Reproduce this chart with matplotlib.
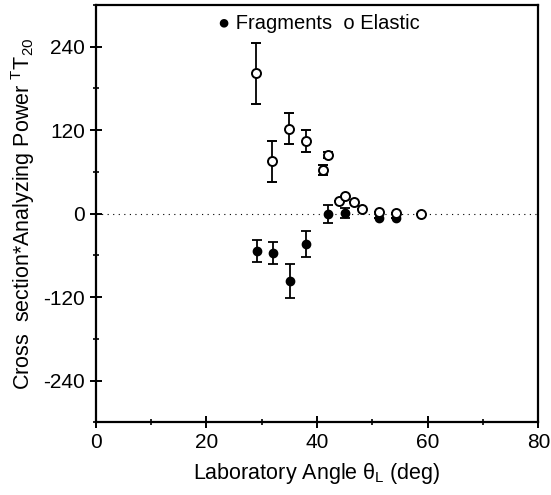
import matplotlib
matplotlib.use("Agg")
import matplotlib.pyplot as plt
from matplotlib.ticker import MultipleLocator

plt.rcParams['font.family'] = ['Liberation Sans', 'DejaVu Sans']
plt.rcParams['axes.unicode_minus'] = False

# Elastic (open circles)
el_x = [29.0, 31.9, 35.0, 38.0, 41.1, 42.0, 44.0, 45.0, 46.6, 48.1, 51.2, 54.2, 58.7]
el_y = [202, 75, 122, 104, 63, 84, 18, 25, 17, 7, 2, 1, 0]
el_err = [44, 30, 22, 16, 7, 4, 0, 0, 0, 0, 0, 0, 0]

# Fragments (filled circles)
fr_x = [29.1, 32.0, 35.1, 38.0, 42.0, 45.0, 51.2, 54.2]
fr_y = [-54, -57, -97, -44, 0, 1, -6, -6]
fr_err = [16, 16, 25, 19, 13, 7, 0, 0]

fig = plt.figure(figsize=(5.51, 4.95), dpi=100)
ax = fig.add_axes([0.174, 0.147, 0.803, 0.843])

ax.axhline(0, color='black', lw=0.8, ls=(0, (1, 4)), zorder=1)

ax.errorbar(fr_x, fr_y, yerr=fr_err, fmt='o', ms=6, mfc='black', mec='black',
            ecolor='black', elinewidth=1.3, capsize=3.5, capthick=1.3, zorder=3)
ax.errorbar(el_x, el_y, yerr=el_err, fmt='o', ms=6.5, mfc='white', mec='black', mew=1.4,
            ecolor='black', elinewidth=1.3, capsize=3.5, capthick=1.3, zorder=4)

ax.set_xlim(0, 80)
ax.set_ylim(-300, 300)
ax.xaxis.set_major_locator(MultipleLocator(20))
ax.xaxis.set_minor_locator(MultipleLocator(10))
ax.yaxis.set_major_locator(MultipleLocator(120))
ax.yaxis.set_minor_locator(MultipleLocator(60))
ax.tick_params(which='major', direction='inout', length=9, width=1.4, labelsize=15)
ax.tick_params(which='minor', direction='inout', length=5, width=1.2)
ax.tick_params(top=False, right=False)
for s in ax.spines.values():
    s.set_linewidth(1.6)

ax.set_xlabel(r'Laboratory Angle $\mathregular{\theta_L}$ (deg)', fontsize=15.5, labelpad=6)
ax.set_ylabel(r'Cross  section*Analyzing Power $\mathregular{^TT_{20}}$', fontsize=15.5, labelpad=4)

ax.text(0.505, 0.955, '\u25CF Fragments  o Elastic', transform=ax.transAxes,
        ha='center', va='center', fontsize=14.5)

fig.savefig('out.png', dpi=100)
